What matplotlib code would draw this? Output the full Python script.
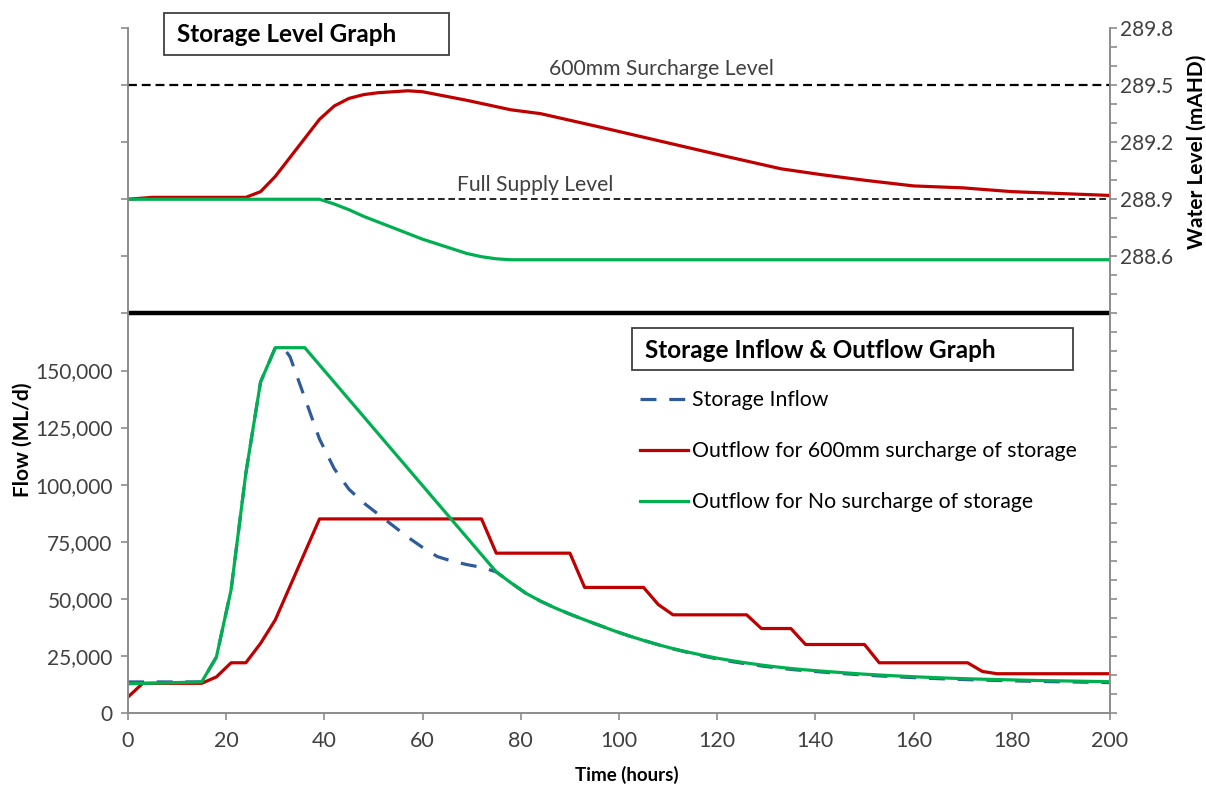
import matplotlib.pyplot as plt
from matplotlib.patches import Rectangle
from matplotlib.ticker import FixedLocator, FuncFormatter

plt.rcParams['font.family'] = ['Lato', 'DejaVu Sans']

# flow hydrographs (ML/d)
hours_inflow = [0, 15, 18, 21, 24, 27, 30, 32, 33, 36, 39, 42, 45, 48, 51, 54, 57, 60,
                63, 66, 69, 72, 75, 78, 81, 84, 87, 90, 93, 96, 99, 102, 105, 108, 111,
                114, 117, 120, 123, 126, 129, 132, 135, 138, 141, 144, 150, 156, 162,
                168, 174, 180, 186, 192, 200]
inflow = [13600, 13600, 24500, 54000, 105000, 145000, 160000, 159000, 156000, 138000,
          120000, 107000, 98000, 92000, 87000, 82000, 77000, 72500, 68500, 66500, 65000,
          63800, 61800, 57000, 52500, 49000, 46000, 43300, 40800, 38400, 36000, 33800,
          31800, 29900, 28100, 26500, 25000, 23700, 22500, 21500, 20600, 19800, 19100,
          18500, 18000, 17500, 16600, 15900, 15300, 14800, 14400, 14100, 13800, 13600,
          13300]

hours_nosur = [0, 15, 18, 21, 24, 27, 30, 36, 75, 78, 81, 84, 87, 90, 93, 96, 99, 102,
               105, 108, 111, 114, 117, 120, 123, 126, 129, 132, 135, 138, 141, 144, 150,
               156, 162, 168, 174, 180, 186, 192, 200]
outflow_nosur = [12800, 13600, 24500, 54000, 105000, 145000, 160000, 160000, 61800, 57000,
                 52500, 49000, 46000, 43300, 40800, 38400, 36000, 33800, 31800, 29900,
                 28200, 26700, 25300, 24000, 22900, 21900, 21000, 20200, 19500, 18900,
                 18400, 17900, 17000, 16300, 15700, 15200, 14800, 14500, 14200, 14000,
                 13700]

hours_sur = [0, 3, 15, 18, 21, 24, 27, 30, 39, 72, 75, 90, 93, 105, 108, 111, 126, 129,
             135, 138, 150, 153, 171, 174, 177, 200]
outflow_sur = [7000, 13000, 13000, 15800, 22000, 22000, 30500, 40800, 85000, 85000, 70000,
               70000, 55000, 55000, 47500, 43000, 43000, 37000, 37000, 30000, 30000, 22000,
               22000, 18200, 17200, 17200]

# storage water levels (mAHD)
hours_lvl_sur = [0, 5, 24, 27, 30, 33, 36, 39, 42, 45, 48, 51, 57, 60, 63, 69, 78, 84, 96,
                 111, 121, 133, 141, 150, 160, 170, 180, 190, 200]
level_sur = [288.90, 288.91, 288.91, 288.94, 289.02, 289.12, 289.22, 289.32, 289.39, 289.43,
             289.45, 289.46, 289.47, 289.465, 289.45, 289.42, 289.37, 289.35, 289.28,
             289.19, 289.13, 289.06, 289.03, 289.00, 288.97, 288.96, 288.94, 288.93, 288.92]

hours_lvl_nosur = [0, 39, 42, 45, 48, 51, 54, 57, 60, 63, 66, 69, 72, 75, 78, 200]
level_nosur = [288.9, 288.9, 288.875, 288.845, 288.81, 288.78, 288.75, 288.72, 288.69,
               288.665, 288.64, 288.615, 288.598, 288.587, 288.582, 288.582]

surcharge_level = 289.5
fsl = 288.9
divider_flow = 175000

RED = '#C00000'
GREEN = '#00B050'
BLUE = '#2F5C99'
GREY = '#8C8C8C'
TXT = '#404040'

fig = plt.figure(figsize=(12.06, 7.85), dpi=100)
ax = fig.add_axes([128 / 1206, 1 - 713 / 785, (1110 - 128) / 1206, (713 - 28) / 785])
ax2 = ax.twinx()

ax.plot(hours_inflow, inflow, color=BLUE, lw=2.3, dashes=(5, 4), label='Storage Inflow')
ax.plot(hours_sur, outflow_sur, color=RED, lw=2.3, label='Outflow for 600mm surcharge of storage')
ax.plot(hours_nosur, outflow_nosur, color=GREEN, lw=2.3, label='Outflow for No surcharge of storage')
ax.axhline(divider_flow, color='black', lw=3.2)

ax2.axhline(surcharge_level, color='black', lw=1.6, dashes=(4, 2.2))
ax2.axhline(fsl, color='black', lw=1.2, dashes=(4, 2.2))
ax2.plot(hours_lvl_sur, level_sur, color=RED, lw=2.3)
ax2.plot(hours_lvl_nosur, level_nosur, color=GREEN, lw=2.3)
ax2.text(108.7, 289.53, '600mm Surcharge Level', ha='center', va='bottom', fontsize=15.2, color=TXT)
ax2.text(83, 288.92, 'Full Supply Level', ha='center', va='bottom', fontsize=15.2, color=TXT)

ax.set_xlim(0, 200)
ax.set_ylim(0, 300000)
ax2.set_ylim(286.2, 289.8)
ax.set_xticks(range(0, 201, 20))
ax.yaxis.set_major_locator(FixedLocator(range(0, 300001, 25000)))
ax.yaxis.set_major_formatter(FuncFormatter(lambda v, p: f'{v:,.0f}' if v <= 150000 else ''))
ax2.yaxis.set_major_locator(FixedLocator([286.2 + 0.1 * i for i in range(37)]))
shown = {'288.6', '288.9', '289.2', '289.5', '289.8'}
ax2.yaxis.set_major_formatter(FuncFormatter(lambda v, p: f'{v:.1f}' if f'{v:.1f}' in shown else ''))

for a in (ax, ax2):
    a.spines['top'].set_visible(False)
    for s in ('left', 'right', 'bottom'):
        a.spines[s].set_color(GREY)
        a.spines[s].set_linewidth(1.2)
    a.tick_params(colors=GREY, labelcolor=TXT, labelsize=15, length=5, width=1.2)
ax.tick_params(axis='x', pad=8, labelsize=15.5)
ax.tick_params(axis='y', pad=6)
ax2.tick_params(axis='y', pad=2)

ax.set_xlabel('Time (hours)', fontsize=13.5, fontweight='bold')
ax.xaxis.set_label_coords(0.508, -0.077)
ax.set_ylabel('Flow (ML/d)', fontsize=15, fontweight='bold')
ax.yaxis.set_label_coords(-0.097, 0.399)
ax2.set_ylabel('Water Level (mAHD)', fontsize=15, fontweight='bold')
ax2.yaxis.set_label_coords(1.078, 0.819)

ax.legend(loc='upper left', bbox_to_anchor=(640 / 1206, 1 - 390 / 785),
          bbox_transform=fig.transFigure, frameon=False, fontsize=15.3,
          handlelength=2.26, handletextpad=0.19, labelspacing=1.47, borderpad=0,
          borderaxespad=0)

# title boxes
fig.patches.append(Rectangle((164 / 1206, 1 - 55 / 785), 285 / 1206, 42 / 785,
                             transform=fig.transFigure, fill=False, ec='#404040', lw=1.3))
fig.text(177 / 1206, 1 - 35 / 785, 'Storage Level Graph', fontsize=17.5,
         fontweight='bold', va='center', color='black')
fig.patches.append(Rectangle((632 / 1206, 1 - 370 / 785), 441 / 1206, 42 / 785,
                             transform=fig.transFigure, fill=False, ec='#404040', lw=1.3))
fig.text(645 / 1206, 1 - 350 / 785, 'Storage Inflow & Outflow Graph', fontsize=17.5,
         fontweight='bold', va='center', color='black')

fig.savefig('out.png', dpi=100)
